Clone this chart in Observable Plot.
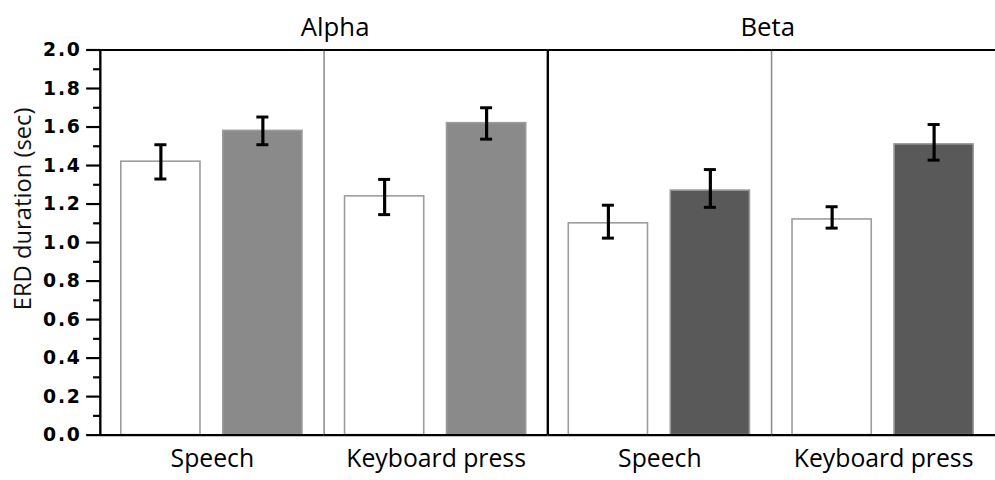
<!DOCTYPE html>
<html><head><meta charset="utf-8">
<script src="https://cdn.jsdelivr.net/npm/d3@7"></script>
<script src="https://cdn.jsdelivr.net/npm/@observablehq/plot@0.6"></script>
<style>html,body{margin:0;padding:0;background:#fff;overflow:hidden}</style>
</head><body><div id="chart"></div>
<script>
// ---- data ----
const bands = ["Alpha", "Alpha", "Beta", "Beta"];
const tasks = ["Speech", "Keyboard press", "Speech", "Keyboard press"];
const conditions = ["open", "filled"];
const meanOpen   = [1.42, 1.24, 1.10, 1.12];
const lowOpen    = [1.33, 1.145, 1.023, 1.075];
const highOpen   = [1.508, 1.328, 1.194, 1.186];
const meanFilled = [1.58, 1.62, 1.27, 1.51];
const lowFilled  = [1.508, 1.537, 1.183, 1.428];
const highFilled = [1.652, 1.70, 1.379, 1.613];
const majorTicks = [0, 0.2, 0.4, 0.6, 0.8, 1.0, 1.2, 1.4, 1.6, 1.8, 2.0];
const minorTicks = [0.1, 0.3, 0.5, 0.7, 0.9, 1.1, 1.3, 1.5, 1.7, 1.9];
const bandTitles = ["Alpha", "Beta"];
const yLabel = "ERD duration (sec)";

// ---- tables ----
const panels = bands.map((b, i) => `${b}|${tasks[i]}`);
const rows = [];
panels.forEach((p, i) => {
  rows.push({panel: p, band: bands[i], cond: "open", mean: meanOpen[i], lo: lowOpen[i], hi: highOpen[i]});
  rows.push({panel: p, band: bands[i], cond: "filled", mean: meanFilled[i], lo: lowFilled[i], hi: highFilled[i]});
});
const dividers = [
  {panel: panels[0], kind: "axis"},
  {panel: panels[1], kind: "thin"},
  {panel: panels[2], kind: "thick"},
  {panel: panels[3], kind: "thin"}
];

// ---- layout ----
const W = 1005, H = 480, mL = 101, mR = 0, mT = 50, mB = 41;
const pIn = 0.22, pOut = 0.2;
const facetW = (W - mL - mR) / panels.length;
const step = facetW / (conditions.length - pIn + 2 * pOut);
const bw = step * (1 - pIn);
const toLeft = pOut * step + bw / 2;
const capInset = (bw - 13) / 2;

const fillFor = d => d.cond === "open" ? "#ffffff" : (d.band === "Alpha" ? "#8a8a8a" : "#595959");
const fmt = d3.format(".1f");

const chart = Plot.plot({
  width: W, height: H,
  marginLeft: mL, marginRight: mR, marginTop: mT, marginBottom: mB,
  style: {fontFamily: "Open Sans", background: "#fff", color: "#000"},
  fx: {domain: panels, padding: 0, label: null},
  x: {domain: conditions, paddingInner: pIn, paddingOuter: pOut, axis: null},
  y: {domain: [0, 2], axis: null},
  marks: [
    Plot.barY(rows, {fx: "panel", x: "cond", y: "mean", fill: fillFor, stroke: "#9c9c9c", strokeWidth: 1.6}),
    Plot.ruleX(rows, {fx: "panel", x: "cond", y1: "lo", y2: "hi", stroke: "#000", strokeWidth: 3.2}),
    Plot.tickY(rows, {fx: "panel", x: "cond", y: "lo", insetLeft: capInset, insetRight: capInset, stroke: "#000", strokeWidth: 3}),
    Plot.tickY(rows, {fx: "panel", x: "cond", y: "hi", insetLeft: capInset, insetRight: capInset, stroke: "#000", strokeWidth: 3}),
    Plot.ruleX(dividers.filter(d => d.kind === "thin"), {fx: "panel", x: () => conditions[0], dx: -toLeft, y1: 0, y2: 2, stroke: "#8f8f8f", strokeWidth: 1.6}),
    Plot.ruleX(dividers.filter(d => d.kind !== "thin"), {fx: "panel", x: () => conditions[0], dx: -toLeft, y1: 0, y2: 2, stroke: "#000", strokeWidth: 2.4}),
    Plot.ruleY([0, 2], {stroke: "#000", strokeWidth: 2.2}),
    Plot.axisY({ticks: majorTicks, tickSize: 14, tickPadding: 5, tickFormat: fmt, strokeWidth: 2.2,
      fontFamily: "DejaVu Sans", fontWeight: "bold", fontSize: 19, label: null}),
    Plot.axisY({ticks: minorTicks, tickSize: 7, tickFormat: () => "", strokeWidth: 2.2, label: null}),
    Plot.axisFx({anchor: "bottom", tickSize: 0, tickPadding: 14, fontSize: 25, tickFormat: p => p.split("|")[1], label: null}),
    Plot.text([yLabel], {fx: () => panels[0], text: d => d, frameAnchor: "left", rotate: -90, dx: -78, dy: -34, fontSize: 24, textAnchor: "middle", lineAnchor: "middle", fill: "#111"}),
    Plot.text(bandTitles.slice(0, 1), {fx: () => panels[1], text: d => d, frameAnchor: "top-left", dx: 11, dy: -14, fontSize: 26, textAnchor: "middle", lineAnchor: "bottom"}),
    Plot.text(bandTitles.slice(1, 2), {fx: () => panels[3], text: d => d, frameAnchor: "top-left", dx: -4, dy: -14, fontSize: 26, textAnchor: "middle", lineAnchor: "bottom"})
  ]
});
// typographic styling of the y tick labels (wide bold face as in the reference)
const tickTexts = new Set(majorTicks.map(fmt));
d3.select(chart).selectAll("text")
  .filter(function() { return tickTexts.has(this.textContent.trim()); })
  .style("font-family", "'DejaVu Sans', sans-serif")
  .style("font-weight", "700")
  .style("font-size", "19px")
  .style("letter-spacing", "1.8px");
document.getElementById("chart").appendChild(chart);
</script>
</body></html>
